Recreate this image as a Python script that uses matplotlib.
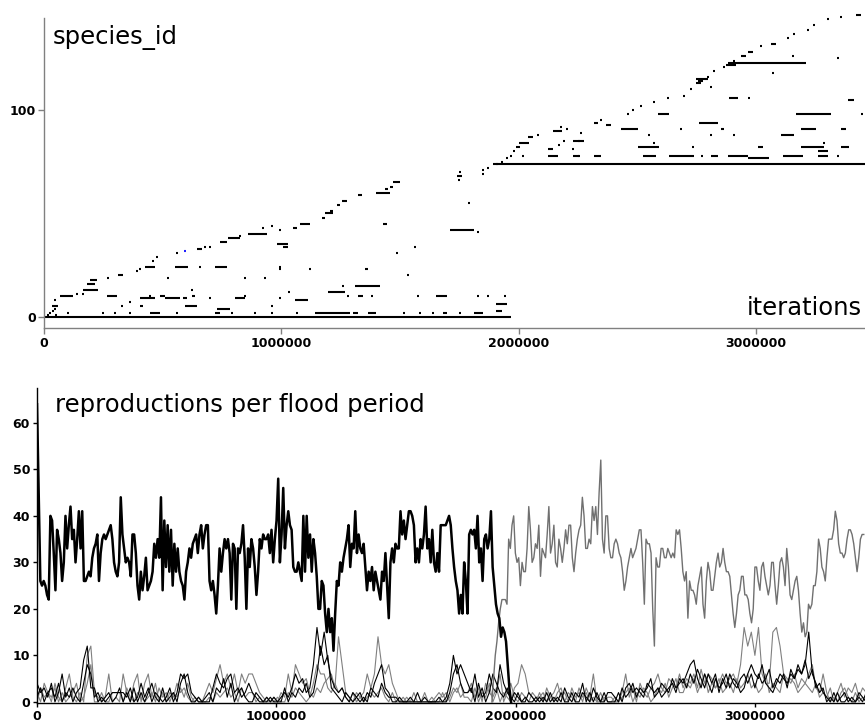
import numpy as np
import matplotlib
matplotlib.use("Agg")
import matplotlib.pyplot as plt
from matplotlib import font_manager

# ---------------- data: top panel (species lifetimes) ----------------
# multi-sample segments: species id, start and end (thousands of iterations)
seg_id = [0, 74,
          10, 13, 16, 18, 20, 24, 33, 36, 38, 40, 43, 45, 48, 50, 51, 54, 56, 59, 60, 62, 63, 65,
          5, 5, 5, 4, 2, 2, 9, 9, 9, 9, 10, 10, 10, 24, 24, 35,
          2, 2, 2, 2, 2, 3, 6, 8, 10, 10, 12, 15, 23, 34, 42, 45, 68,
          82, 84, 87, 90, 94, 93, 113, 114, 122, 126, 128, 132, 146,
          78, 78, 78, 78, 78, 78, 78, 77, 78, 78, 81, 85, 82, 82, 82, 82, 80, 88,
          91, 91, 91, 91, 94, 98, 98, 105, 106, 115, 123]
seg_start = [0, 1894,
             68, 165, 181, 194, 312, 426, 646, 743, 776, 861, 1051, 1080, 1173, 1186, 1207, 1236, 1257, 1325, 1397, 1439, 1460, 1472,
             34, 405, 595, 730, 447, 721, 405, 511, 586, 806, 266, 489, 624, 553, 721, 983,
             1143, 1304, 1367, 1683, 1810, 1903, 1903, 1059, 1325, 1650, 1198, 1312, 1354, 1008, 1713, 1430, 1742,
             1987, 2000, 2038, 2147, 2316, 2367, 2747, 2755, 2873, 2936, 2966, 3063, 3422,
             2126, 2228, 2316, 2523, 2633, 2810, 2882, 2966, 3114, 3261, 2126, 2228, 2502, 3008, 3190, 3358, 3261, 3105,
             2430, 2852, 3190, 3358, 2759, 2586, 3168, 3388, 2886, 2747, 2882]
seg_end = [1970, 3470,
           122, 228, 215, 224, 333, 468, 667, 772, 827, 941, 1067, 1122, 1186, 1219, 1219, 1249, 1278, 1342, 1460, 1451, 1472, 1502,
           59, 418, 646, 785, 489, 743, 468, 574, 603, 848, 308, 511, 637, 608, 772, 1029,
           1291, 1325, 1397, 1700, 1852, 1932, 1953, 1114, 1346, 1700, 1270, 1418, 1367, 1029, 1810, 1447, 1763,
           2008, 2042, 2059, 2185, 2333, 2388, 2768, 2776, 2915, 2958, 2987, 3084, 3443,
           2164, 2253, 2346, 2578, 2738, 2839, 2966, 3055, 3198, 3303, 2143, 2274, 2591, 3029, 3287, 3392, 3303, 3160,
           2502, 2865, 3253, 3380, 2839, 2633, 3316, 3413, 2924, 2797, 3211]

# single samples: species id and time (thousands of iterations)
dot_id = [1, 3, 4, 1, 2, 8, 11, 11, 19, 22, 23, 27, 29, 31, 34, 34, 39, 43, 44, 42,
          5, 5, 2, 2, 2, 2, 2, 2, 2, 2, 7, 9, 9, 10, 10, 13, 19, 19, 19, 24, 24,
          2, 2, 2, 2, 2, 10, 10, 10, 10, 10, 10, 12, 15, 20, 23, 23, 31, 34, 41, 55,
          66, 69, 71, 72, 70,
          74, 75, 77, 78, 80, 88, 91, 92, 95, 98, 100, 102, 104, 106, 107, 110, 116, 119, 121, 124,
          131, 135, 137, 139, 141, 144, 145,
          78, 78, 78, 78, 81, 83, 85, 85, 89, 82, 84, 84, 88, 88, 88, 91, 98, 106, 111, 118, 126, 125]
dot_k = [15, 38, 46, 50, 25, 46, 139, 165, 270, 392, 405, 460, 477, 561, 679, 700, 827, 924, 962, 996,
         329, 962, 101, 249, 300, 363, 561, 793, 890, 962, 363, 700, 996, 447, 848, 624, 523, 848, 932, 658, 996,
         1067, 1515, 1586, 1641, 1755, 1283, 1384, 1574, 1827, 1873, 1941, 1034, 1261, 1532, 996, 1122, 1489, 1565, 1827, 1789,
         1747, 1848, 1848, 1873, 1755,
         1911, 1932, 1953, 1966, 1979, 2080, 2202, 2177, 2346, 2460, 2481, 2515, 2569, 2628, 2696, 2726, 2797, 2823, 2865, 2907,
         3021, 3135, 3160, 3219, 3244, 3303, 3358,
         2017, 2253, 2772, 3346, 2228, 2169, 2190, 2253, 2261, 2734, 2569, 3287, 2548, 2810, 2907, 2683, 3447, 2970, 2810, 3072, 3156, 3346]
blue_dot = (32, 595)

# ---------------- data: bottom panel (reproductions per flood period) ----------------
main_step = 7000          # iterations between samples
main_vals = [64, 45, 26, 25, 26, 25, 23, 22, 40, 39,
             32, 24, 37, 35, 32, 26, 30, 40, 33, 38,
             42, 35, 37, 30, 35, 41, 33, 41, 26, 26,
             27, 28, 27, 31, 33, 34, 36, 26, 32, 35,
             36, 35, 36, 37, 38, 35, 30, 28, 27, 30,
             44, 36, 33, 30, 31, 30, 27, 36, 36, 32,
             25, 22, 28, 24, 27, 31, 24, 25, 26, 28,
             34, 31, 35, 31, 44, 24, 39, 29, 38, 28,
             37, 25, 34, 28, 33, 28, 26, 25, 22, 28,
             30, 33,
             31, 34, 35, 36, 32, 36, 38, 33, 36, 38,
             38, 26, 24, 26, 23, 19, 25, 33, 28, 32,
             35, 33, 35, 32, 22, 34, 33, 20, 33, 32,
             34, 38, 31, 20, 33, 29, 35, 33, 29, 23,
             28, 35, 33, 36, 35, 35, 36, 32, 37, 30,
             35, 39, 48, 30, 36, 46, 33, 38, 41, 38,
             37, 29, 28, 28, 30, 28, 26, 40, 28, 40,
             31, 36, 28, 35, 32, 27, 20, 20, 26, 25,
             19, 15, 20, 15, 18, 11, 19, 26, 25, 30,
             28, 31, 33, 35, 38,
             29, 34, 33, 41, 32, 36, 33, 32, 34, 29,
             24, 28, 26, 29, 24, 28, 26, 24, 22, 28,
             26, 32, 25, 18, 30, 33, 30, 34, 33, 33,
             41, 36, 39, 35, 38, 41, 41, 40, 38, 30,
             33, 30, 35, 33, 36, 42, 33, 35, 30, 37,
             30, 28, 32, 28, 38, 38, 38, 38, 39, 40,
             38, 33, 29, 26, 24, 19, 23, 19, 30, 26,
             19, 36, 37, 36, 37, 33, 40, 30, 33, 26,
             35, 36, 33, 35, 41, 29, 25, 21, 19, 18,
             14, 16, 15, 13, 8, 3, 0]

second_start = 1901000
second_step = 7000
second_vals = [0, 5, 10, 13, 17, 20, 22, 22, 22, 21,
               35, 33, 38, 40, 32, 30, 31, 25, 30, 28,
               28, 33, 42, 37, 30, 31, 34, 33, 38, 27,
               33, 32, 31, 36, 42, 32, 34, 38, 30, 29,
               35, 33, 30, 33, 37, 34, 38, 38, 31, 28,
               32, 35, 37, 38, 44, 40, 33, 33, 35, 34,
               42, 39, 42, 36, 45, 52, 35, 32, 40, 40,
               33, 31, 31, 34, 35, 34, 32, 31, 28, 24,
               26, 29, 31, 33, 31, 32, 33, 35, 37, 37,
               30, 21, 35, 34, 34, 32, 20, 12, 31, 29,
               29, 33, 33, 31, 31, 33, 32, 31, 32, 31,
               37, 36, 37,
               33, 28, 26, 28, 18, 26, 24, 24, 23, 21,
               25, 27, 29, 21, 18, 26, 30, 28, 24, 24,
               27, 30, 32, 29, 30, 33, 30, 28, 28, 27,
               23, 19, 16, 19, 23, 24, 27, 27, 23, 23,
               22, 19, 17, 20, 29, 29, 26, 24, 29, 30,
               27, 25, 23, 25, 30, 30, 25, 21, 25, 30,
               31, 29, 25, 33, 29, 23, 22, 24, 26, 27,
               24, 19, 15, 17, 14, 15, 21, 20, 21, 25,
               25, 28, 35, 33, 29, 28, 26, 31, 35, 35,
               35, 37, 41, 39, 34, 32, 32, 31, 32, 35,
               37, 37, 36, 34, 31, 28, 31, 35, 36, 36]

minor_step = 15000
minor_a = [4, 2, 3, 1, 4, 0, 2, 6, 1, 3, 0, 2, 3, 9, 12, 3, 3, 0, 1, 0,
           1, 2, 2, 2, 2, 1, 3, 0, 1, 4, 1, 3, 0, 2, 1, 0, 1, 3, 0, 2,
           6, 5, 6, 2, 1, 0, 0, 0, 0, 3, 6, 4, 3, 5, 6, 2, 3, 1, 2, 4,
           2, 1, 0, 0, 0, 1, 0, 0, 1, 2, 1, 3, 6, 4, 5, 2, 3, 8, 16, 10,
           15, 9, 5, 3, 2, 3, 1, 0, 2, 1, 2, 0, 2, 1, 4, 6, 8, 3, 2, 0,
           0, 1, 0, 0, 0, 0, 2, 0, 0, 0, 0, 0, 0, 0, 1, 4, 10, 6, 8, 6,
           4, 2, 6, 1, 3, 0, 2, 6, 4, 2, 1, 3, 0, 2, 1, 0, 1, 0, 0, 1,
           0, 1, 0, 2, 0, 1, 0, 3, 1, 0, 2, 1, 4, 0, 2, 0, 2, 0, 2, 0,
           0, 0, 2, 0, 3, 4, 2, 3, 2, 1, 4, 3, 2, 3, 1, 2, 3, 4, 2, 5,
           4, 6, 8, 9, 5, 3, 6, 4, 2, 5, 3, 4, 6, 3, 5, 4, 2, 3, 6, 8,
           6, 5, 8, 4, 3, 2, 4, 6, 5, 4, 6, 5, 7, 6, 8, 15, 6, 4, 2, 3,
           0, 1, 0, 2, 0, 0, 1, 0, 0, 1, 0, 2]
minor_b = [0, 3, 1, 2, 0, 4, 1, 0, 3, 6, 1, 0, 2, 0, 10, 12, 2, 1, 0, 1,
           6, 0, 1, 0, 6, 2, 0, 4, 6, 0, 4, 6, 1, 4, 0, 2, 0, 2, 1, 4,
           2, 3, 1, 0, 1, 0, 0, 2, 4, 2, 5, 8, 4, 6, 3, 6, 2, 6, 4, 6,
           6, 4, 2, 1, 0, 0, 1, 0, 2, 1, 6, 2, 8, 6, 4, 5, 2, 1, 3, 2,
           4, 5, 6, 3, 14, 8, 2, 1, 0, 2, 1, 2, 6, 3, 6, 14, 8, 6, 8, 4,
           2, 0, 0, 1, 0, 0, 0, 0, 2, 0, 0, 1, 2, 1, 2, 0, 2, 3, 1, 2,
           2, 4, 1, 3, 0, 4, 2, 1, 3, 0, 2, 1, 0, 3, 4, 8, 6, 2, 1, 0,
           2, 0, 3, 1, 2, 4, 1, 2, 0, 3, 1, 2, 0, 3, 1, 6, 0, 0, 1, 0,
           0, 1, 0, 2, 6, 1, 3, 0, 4, 2, 1, 3, 4, 6, 3, 2, 5, 4, 3, 6,
           3, 5, 4, 6, 3, 7, 4, 6, 5, 3, 4, 6, 4, 5, 6, 4, 8, 16, 12, 15,
           10, 16, 6, 4, 4, 15, 16, 12, 6, 4, 5, 4, 2, 3, 4, 3, 2, 4, 1, 2,
           1, 3, 0, 2, 4, 1, 3, 2, 4, 1, 3, 2]
minor_c = [2, 0, 4, 2, 1, 3, 0, 2, 0, 1, 2, 4, 0, 1, 4, 8, 0, 0, 2, 0,
           0, 2, 2, 2, 0, 3, 1, 0, 2, 1, 0, 1, 2, 0, 3, 1, 2, 0, 2, 1,
           3, 1, 4, 1, 0, 1, 0, 0, 1, 0, 2, 1, 2, 3, 1, 2, 0, 3, 1, 2,
           2, 0, 1, 0, 1, 0, 0, 1, 0, 0, 2, 1, 3, 2, 1, 0, 1, 4, 8, 6,
           6, 3, 2, 4, 2, 3, 1, 0, 2, 0, 1, 0, 1, 2, 1, 2, 3, 1, 0, 2,
           0, 0, 1, 0, 0, 2, 0, 0, 0, 0, 1, 0, 0, 2, 0, 1, 3, 2, 4, 1,
           1, 0, 3, 0, 2, 1, 4, 0, 2, 6, 0, 2, 4, 1, 0, 2, 1, 0, 2, 1,
           1, 2, 0, 1, 0, 2, 3, 0, 2, 1, 0, 3, 1, 2, 0, 1, 0, 2, 0, 1,
           1, 0, 0, 1, 2, 3, 0, 2, 1, 3, 2, 0, 1, 3, 2, 4, 1, 3, 5, 2,
           2, 4, 3, 5, 2, 4, 6, 2, 4, 3, 5, 2, 3, 4, 2, 5, 3, 4, 6, 3,
           4, 2, 3, 6, 2, 4, 3, 2, 6, 5, 4, 6, 3, 5, 4, 6, 8, 3, 2, 6,
           2, 0, 1, 0, 2, 3, 1, 0, 2, 0, 1, 0]
minor_d = [1, 3, 0, 2, 3, 1, 4, 0, 2, 1, 3, 1, 0, 4, 8, 6, 1, 2, 0, 1,
           2, 0, 1, 3, 0, 2, 0, 3, 0, 2, 0, 2, 4, 1, 0, 3, 0, 1, 2, 0,
           4, 6, 2, 0, 0, 1, 0, 1, 2, 0, 3, 2, 5, 1, 4, 0, 2, 3, 1, 0,
           0, 2, 1, 0, 1, 0, 1, 0, 0, 3, 0, 2, 1, 3, 2, 4, 1, 2, 6, 12,
           8, 10, 3, 2, 1, 0, 2, 1, 0, 1, 0, 1, 0, 3, 2, 1, 4, 2, 1, 1,
           1, 0, 0, 0, 1, 0, 0, 0, 1, 0, 0, 0, 1, 0, 0, 2, 6, 8, 4, 2,
           2, 3, 0, 4, 1, 2, 6, 3, 2, 8, 4, 2, 1, 0, 2, 0, 0, 2, 1, 0,
           1, 0, 2, 0, 1, 0, 2, 0, 0, 2, 0, 0, 2, 1, 0, 3, 1, 0, 0, 2,
           2, 1, 0, 3, 1, 2, 4, 1, 3, 2, 3, 5, 1, 2, 4, 3, 2, 5, 3, 4,
           5, 3, 6, 4, 7, 5, 3, 6, 4, 6, 2, 5, 3, 6, 4, 3, 5, 6, 4, 6,
           3, 6, 4, 5, 7, 3, 5, 4, 6, 3, 7, 5, 8, 6, 9, 5, 7, 3, 4, 2,
           1, 0, 2, 0, 1, 2, 0, 1, 0, 2, 1, 0]

xticks = [0, 1000000, 2000000, 3000000]
xticklabels = ["0", "1000000", "2000000", "3000000"]
top_yticks = [0, 100]
bottom_yticks = [0, 10, 20, 30, 40, 50, 60]

# ---------------- fonts ----------------
available = {f.name for f in font_manager.fontManager.ttflist}
tick_family = "Liberation Sans Narrow" if "Liberation Sans Narrow" in available else "DejaVu Sans"
tick_size = 10.5 if tick_family == "Liberation Sans Narrow" else 9.0

W, H = 865, 724
fig = plt.figure(figsize=(W / 100, H / 100), dpi=100)

# ---------------- top panel ----------------
ax1 = fig.add_axes([44 / W, 1 - 328.2 / H, 821 / W, 315.2 / H])
ax1.set_xlim(0, 3.4598e6)
ax1.set_ylim(-5.5, 147)
s = np.array(seg_start) * 1000.0
e = np.array(seg_end) * 1000.0
ax1.hlines(seg_id, s, e, colors="black", linewidth=1.5, capstyle="butt")
dk = np.array(dot_k) * 1000.0
ax1.hlines(dot_id, dk - 4200, dk + 4200, colors="black", linewidth=1.5, capstyle="butt")
ax1.hlines([blue_dot[0]], [blue_dot[1] * 1000 - 4200], [blue_dot[1] * 1000 + 4200],
           colors="#2020ff", linewidth=1.5)

for sp in ["top", "right"]:
    ax1.spines[sp].set_visible(False)
for sp in ["left", "bottom"]:
    ax1.spines[sp].set_color("#808080")
    ax1.spines[sp].set_linewidth(1.0)
ax1.spines["left"].set_bounds(-5.5, 144.5)
ax1.set_xticks(xticks)
ax1.set_xticklabels(xticklabels)
ax1.set_yticks(top_yticks)
ax1.tick_params(axis="both", direction="out", length=4, width=1, color="#808080", pad=2)
for lab in ax1.get_xticklabels() + ax1.get_yticklabels():
    lab.set_fontfamily(tick_family)
    lab.set_fontweight("bold")
    lab.set_fontsize(tick_size)
ax1.text(0.011, 0.903, "species_id", transform=ax1.transAxes, fontsize=17.5,
         ha="left", va="baseline", family="DejaVu Sans")
ax1.text(0.9963, 0.041, "iterations", transform=ax1.transAxes, fontsize=17.5,
         ha="right", va="baseline", family="DejaVu Sans")

# ---------------- bottom panel ----------------
ax2 = fig.add_axes([37 / W, 1 - 702.8 / H, 828 / W, 314.8 / H])
ax2.set_xlim(0, 3.4601e6)
ax2.set_ylim(-0.2, 67.5)

for vals, col in [(minor_b, "#808080"), (minor_c, "#808080"),
                  (minor_d, "black"), (minor_a, "black")]:
    xs = np.arange(len(vals)) * minor_step
    ax2.plot(xs, vals, color=col, linewidth=0.8)

x2 = second_start + np.arange(len(second_vals)) * second_step
ax2.plot(x2, second_vals, color="#707070", linewidth=1.0)

xm = np.arange(len(main_vals)) * main_step
ax2.plot(xm, main_vals, color="black", linewidth=1.8)

for sp in ["top", "right"]:
    ax2.spines[sp].set_visible(False)
for sp in ["left", "bottom"]:
    ax2.spines[sp].set_color("black")
    ax2.spines[sp].set_linewidth(1.0)
ax2.set_xticks(xticks)
ax2.set_xticklabels(xticklabels)
ax2.set_yticks(bottom_yticks)
ax2.tick_params(axis="both", direction="out", length=3, width=1, pad=2)
for lab in ax2.get_xticklabels() + ax2.get_yticklabels():
    lab.set_fontfamily(tick_family)
    lab.set_fontweight("bold")
    lab.set_fontsize(tick_size)
ax2.text(0.0217, 0.925, "reproductions per flood period", transform=ax2.transAxes,
         fontsize=17.5, ha="left", va="baseline", family="DejaVu Sans")

fig.savefig("out.png", dpi=100)
